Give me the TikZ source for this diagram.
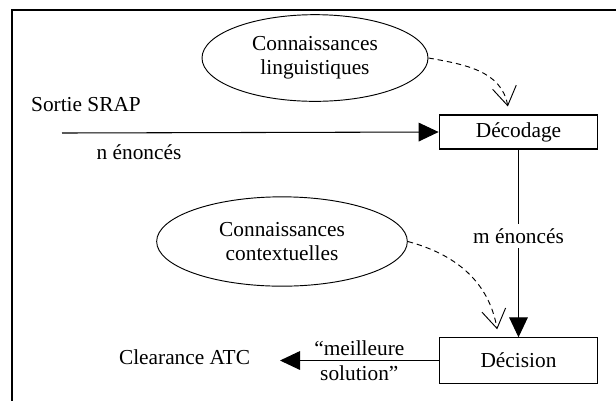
\documentclass[tikz,border=0pt]{standalone}
\usepackage{fontspec}
\setmainfont{Liberation Serif}
\usetikzlibrary{shapes.geometric,arrows.meta}

\begin{document}
\begin{tikzpicture}[x=0.75pt,y=-0.75pt,
    font=\fontsize{16}{18}\selectfont,
    savoir/.style={draw,ellipse,line width=0.7pt,inner sep=0pt,align=center},
    bloc/.style={draw,rectangle,line width=0.8pt,minimum width=119pt,inner sep=0pt},
    flux/.style={line width=0.8pt,-{Triangle[length=15pt,width=14pt]}},
    aide/.style={line width=0.7pt,dash pattern=on 4pt off 3pt,-{Straight Barb[length=14pt,width=18pt]}}]
  \useasboundingbox (0,0) rectangle (616,401);
  \draw[line width=1pt] (616,10) -- (12,10) -- (12,401);
  % les deux modules
  \node[bloc,minimum height=25.5pt] (decodage) at (518.5,132) {Décodage};
  \node[bloc,minimum height=34pt] (decision) at (518.5,360.5) {Décision};
  % les connaissances
  \node[savoir,minimum width=169.5pt,minimum height=65pt] (linguistique) at (315,58) {Connaissances\\linguistiques};
  \node[savoir,minimum width=188pt,minimum height=67pt] (contexte) at (282,241.5) {Connaissances\\contextuelles};
  \coordinate (srap) at (62,133);
  \coordinate (atc) at (280,360.5);
  \node (sortie) at (86,105) {Sortie SRAP};
  \node (nenonces) at (139,152) {n énoncés};
  \node (clearance) at (184.5,357) {Clearance ATC};
  % fleches
  \draw[flux] (srap) -- (decodage.west);
  \draw[flux] (decodage) -- node[fill=white,pos=0.46] {m énoncés} (decision);
  \draw[flux] (decision) -- node[above] {“meilleure} node[below] {solution”} (atc);
  \draw[aide] (linguistique.east) to[out=-10,in=100] ([xshift=-8pt,yshift=6pt]decodage.north);
  \draw[aide] (contexte.east) to[out=-15,in=100] ([xshift=-16pt,yshift=6pt]decision.north);
\end{tikzpicture}
\end{document}
